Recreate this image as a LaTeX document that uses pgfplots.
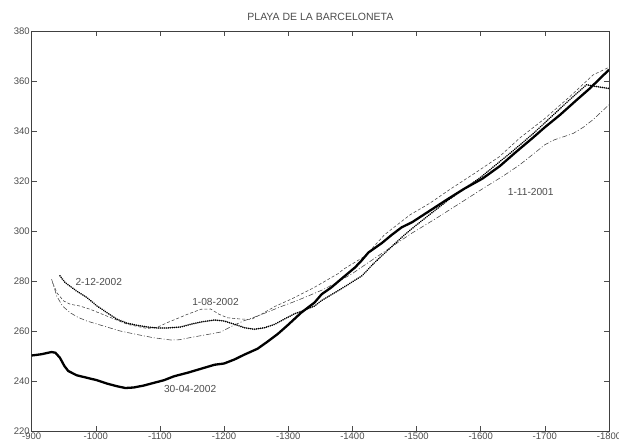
\documentclass[border=0pt]{standalone}
\usepackage{pgfplots}
\pgfplotsset{compat=1.18}
\usepackage{fontspec}
\setmainfont{Liberation Sans}
\definecolor{txt}{gray}{0.3}
\begin{document}
\begin{tikzpicture}
\begin{axis}[
  name=ax,
  scale only axis,
  width=577.3pt, height=400pt,
  x dir=reverse,
  xmin=-1800, xmax=-900, ymin=220, ymax=380,
  xtick={-1800,-1700,-1600,-1500,-1400,-1300,-1200,-1100,-1000,-900},
  xticklabels={{-1800},{-1700},{-1600},{-1500},{-1400},{-1300},{-1200},{-1100},{-1000},{-900}},
  ytick={220,240,...,380},
  /pgf/number format/assume math mode=true,
  tick align=inside,
  major tick length=5pt,
  tick style={black!70, line width=0.5pt},
  axis line style={black!75, line width=0.6pt},
  ticklabel style={font=\fontsize{9.5}{11}\selectfont, text=txt},
  yticklabel style={xshift=1.5pt},
  xticklabel style={yshift=1.5pt},
  clip=true,
]
% 1-11-2001 dash-dot
\addplot[black!75, line width=0.55pt, dash pattern=on 5pt off 2pt on 1pt off 2pt] coordinates {
(-931,280.7) (-935,277.5) (-939,274) (-948,270) (-960,267.3) (-972,265.5) (-986,264) (-1012,262) (-1038,260) (-1064,258.6) (-1090,257.3) (-1117,256.4) (-1130,256.5) (-1150,257.5) (-1174,258.6) (-1195,259.6) (-1211,261.8) (-1230,264) (-1252,266) (-1270,267.8) (-1289,269.8) (-1310,271.8) (-1331,274) (-1352,276.3) (-1373,279) (-1400,283) (-1425,287.4) (-1460,293.5) (-1493,299.2) (-1529,304.8) (-1570,311.5) (-1603,316.9) (-1635,322) (-1660,326.3) (-1686,331.6) (-1700,334.5) (-1715,336.5) (-1728,337.6) (-1744,339) (-1760,341.5) (-1775,344.5) (-1800,350.5)
};
% 1-08-2002 dashed
\addplot[black!75, line width=0.55pt, dash pattern=on 3pt off 2pt] coordinates {
(-933,279) (-940,275) (-950,272) (-960,270.7) (-975,270) (-991,268.7) (-1017,266) (-1049,262.7) (-1080,261) (-1096,261.5) (-1111,263.3) (-1143,266.7) (-1164,268.7) (-1179,268.8) (-1192,266.7) (-1205,265.3) (-1225,264.8) (-1242,264.6) (-1260,267) (-1279,269.8) (-1305,272.8) (-1341,277.5) (-1378,283) (-1386,284.7) (-1420,290) (-1450,298.5) (-1490,306.5) (-1520,311) (-1550,316.3) (-1590,323) (-1629,329.7) (-1660,337) (-1700,345) (-1740,354) (-1775,362.4) (-1800,365.5)
};
% 2-12-2002 dotted
\addplot[black, line width=1.8pt, line cap=round, dash pattern=on 0.01pt off 2pt] coordinates {
(-944,282.1) (-952,279.4) (-970,276) (-986,273.4) (-1002,270) (-1017,267.4) (-1033,264.7) (-1049,263.1) (-1064,262.3) (-1080,261.6) (-1096,261.2) (-1111,261.2) (-1132,261.6) (-1148,262.7) (-1164,263.6) (-1185,264.4) (-1200,264) (-1216,262.7) (-1232,261.3) (-1247,260.7) (-1263,261.3) (-1279,262.7) (-1294,264.8) (-1310,266.9) (-1326,268.4) (-1341,270) (-1352,272.2) (-1373,275.4) (-1394,278.7) (-1415,282.1) (-1435,287.5) (-1456,292.5) (-1477,297.5) (-1493,301) (-1520,306.5) (-1550,312.5) (-1600,321.5) (-1650,332) (-1682,339) (-1718,347.6) (-1745,354) (-1765,358.5) (-1780,357.8) (-1800,357)
};
% 30-04-2002 thick
\addplot[black, line width=2.3pt] coordinates {
(-900,250.2) (-915,250.7) (-931,251.6) (-937,251.3) (-944,249.3) (-951,246) (-957,244) (-970,242.3) (-986,241.3) (-1002,240.3) (-1017,239) (-1033,237.9) (-1046,237.2) (-1059,237.4) (-1075,238.2) (-1091,239.3) (-1106,240.3) (-1122,241.9) (-1143,243.3) (-1164,244.9) (-1185,246.5) (-1200,247) (-1216,248.6) (-1232,250.6) (-1252,252.9) (-1268,255.8) (-1284,258.9) (-1299,262.3) (-1320,267.3) (-1341,271.4) (-1352,274.7) (-1367,277.4) (-1383,280.9) (-1404,285.4) (-1414,288.1) (-1425,291.4) (-1446,295.2) (-1462,298.6) (-1477,301.5) (-1493,303.5) (-1520,308) (-1550,313) (-1575,317) (-1603,321) (-1630,326) (-1655,331.6) (-1680,337) (-1700,341.5) (-1723,346.3) (-1750,352.5) (-1770,357) (-1800,364.5)
};
\node[anchor=west, text=txt, font=\fontsize{10.2}{12}\selectfont, inner sep=0pt] at (axis cs:-968,279.7) {2-12-2002};
\node[anchor=west, text=txt, font=\fontsize{10.2}{12}\selectfont, inner sep=0pt] at (axis cs:-1150,271.6) {1-08-2002};
\node[anchor=west, text=txt, font=\fontsize{10.2}{12}\selectfont, inner sep=0pt] at (axis cs:-1106,237) {30-04-2002};
\node[anchor=west, text=txt, font=\fontsize{10.2}{12}\selectfont, inner sep=0pt] at (axis cs:-1642,315.6) {1-11-2001};
\end{axis}
\node[text=txt, font=\fontsize{10.5}{12}\selectfont] at ([yshift=14pt]ax.north) {PLAYA DE LA BARCELONETA};
\pgfresetboundingbox
\path[use as bounding box] ([xshift=-31.7pt,yshift=-8pt]ax.south west) rectangle ([xshift=10pt,yshift=31pt]ax.north east);
\end{tikzpicture}
\end{document}
